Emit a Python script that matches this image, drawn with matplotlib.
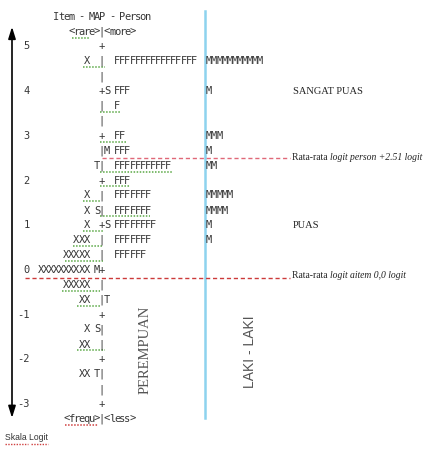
import matplotlib.pyplot as plt

# Wright map: one text row = 1/3 logit
scale_labels = [5, 4, 3, 2, 1, 0, -1, -2, -3]
row_logits = [5, 4.67, 4.33, 4, 3.67, 3.33, 3, 2.67, 2.33, 2, 1.67, 1.33, 1,
              0.67, 0.33, 0, -0.33, -0.67, -1, -1.33, -1.67, -2, -2.33, -2.67, -3]
item_x = [0, 1, 0, 0, 0, 0, 0, 0, 0, 0, 1, 1, 1, 3, 5, 10, 5, 2, 0, 1, 2, 0, 2, 0, 0]
left_mark = ["", "", "", "", "", "", "", "", "T", "", "", "S", "", "",
             "", "M", "", "", "", "S", "", "", "T", "", ""]
right_mark = ["", "", "", "S", "", "", "", "M", "", "", "", "", "S", "",
              "", "", "", "T", "", "", "", "", "", "", ""]
female_f = [0, 16, 0, 3, 1, 0, 2, 3, 11, 3, 7, 7, 8, 7, 6, 0, 0, 0, 0, 0, 0, 0, 0, 0, 0]
male_m = [0, 11, 0, 1, 0, 0, 3, 1, 2, 0, 5, 4, 1, 1, 0, 0, 0, 0, 0, 0, 0, 0, 0, 0, 0]

person_mean = 2.51
item_mean_drawn = -0.19

pitch = 5.1
axis_x = 102
ink = '#363636'

fig = plt.figure(figsize=(4.31, 4.51), dpi=100)
ax = fig.add_axes([0, 0, 1, 1])
ax.set_xlim(0, 431)
ax.set_ylim(-4.05, 6.04)
ax.axis('off')


def put(s, col, y):
    # monospace text, one character per column
    for k, ch in enumerate(s):
        if ch != ' ':
            ax.text(axis_x + (col + k) * pitch, y, ch, family='DejaVu Sans Mono',
                    fontsize=7.5, color=ink, ha='center', va='center')


put("Item - MAP - Person", -9, 5.67)
put("<rare>|<more>", -6, 5.33)
put("<frequ>|<less>", -7, -3.33)

for i, y in enumerate(row_logits):
    put('+' if y in scale_labels else '|', 0, y)
    put(left_mark[i], -1, y)
    put(right_mark[i], 1, y)
    put('X' * item_x[i], -2 - item_x[i], y)
    put('F' * female_f[i], 3, y)
    put('M' * male_m[i], 21, y)

for v in scale_labels:
    ax.text(30, v, str(v), family='DejaVu Sans Mono', fontsize=7.5, color=ink,
            ha='right', va='center')

# spell-check squiggles (row, first col, last col, colour)
squiggles = [(5.33, -5.9, -2.4, '#5aa845'), (4.67, -3.7, 0.6, '#5aa845'),
             (3.67, -0.4, 3.5, '#5aa845'), (3.0, -0.4, 5.0, '#5aa845'),
             (2.33, -0.4, 13.7, '#5aa845'), (2.0, -0.4, 5.5, '#5aa845'),
             (1.67, -3.7, -0.4, '#5aa845'), (1.33, -0.4, 9.5, '#5aa845'),
             (1.0, -3.7, 0.2, '#5aa845'), (0.67, -5.7, 0.2, '#5aa845'),
             (0.33, -7.3, 0.2, '#5aa845'), (-0.33, -7.8, -0.4, '#5aa845'),
             (-0.67, -4.9, -0.4, '#5aa845'), (-1.67, -4.9, 0.6, '#5aa845'),
             (-3.33, -7.3, -0.8, '#d04040')]
for y, c0, c1, col in squiggles:
    ax.plot([axis_x + c0 * pitch, axis_x + c1 * pitch], [y - 0.13, y - 0.13],
            color=col, lw=1.1, ls=(0, (1, 1)))

# double-headed logit arrow and separator
ax.annotate('', xy=(12, 5.44), xytext=(12, -3.31),
            arrowprops=dict(arrowstyle='<|-|>,head_length=0.7,head_width=0.22',
                            color='black', lw=1.2, shrinkA=0, shrinkB=0))
ax.plot([205, 205], [5.8, -3.31], color='#8dd3ee', lw=1.8)

ax.plot([102, 290], [person_mean, person_mean], color='#e06878', lw=1, ls=(0, (3, 2)))
ax.plot([25, 290], [item_mean_drawn, item_mean_drawn], color='#cc3a3a', lw=1, ls=(0, (3, 2)))

serif = dict(family='Liberation Serif', fontsize=7.5, color='#222222', va='center')
small = dict(family='Liberation Serif', fontsize=6.9, color='#222222')
ax.text(293, 4.0, "SANGAT PUAS", **serif)
ax.text(293, 1.0, "PUAS", **serif)
t1 = ax.text(292, person_mean, "Rata-rata ", va='center', **small)
ax.annotate("logit person +2.51 logit", xy=(1, 0), xycoords=t1, va='bottom',
            style='italic', **small)
t2 = ax.text(292, item_mean_drawn + 0.06, "Rata-rata ", va='center', **small)
ax.annotate("logit aitem 0,0 logit", xy=(1, 0), xycoords=t2, va='bottom',
            style='italic', **small)

ax.text(145, -1.79, "PEREMPUAN", family='Liberation Serif', fontsize=10.5,
        color='#555555', rotation=90, ha='center', va='center')
ax.text(250, -1.83, "LAKI - LAKI", family='Liberation Sans', fontsize=10,
        color='#555555', rotation=90, ha='center', va='center')

ax.text(5, -3.74, "Skala Logit", family='Liberation Sans', fontsize=6.2,
        color='#333333', ha='left', va='center')
ax.plot([5, 28], [-3.9, -3.9], color='#d04040', lw=1, ls=(0, (1, 1)))
ax.plot([31, 48], [-3.9, -3.9], color='#d04040', lw=1, ls=(0, (1, 1)))

fig.savefig('out.png', dpi=100)
